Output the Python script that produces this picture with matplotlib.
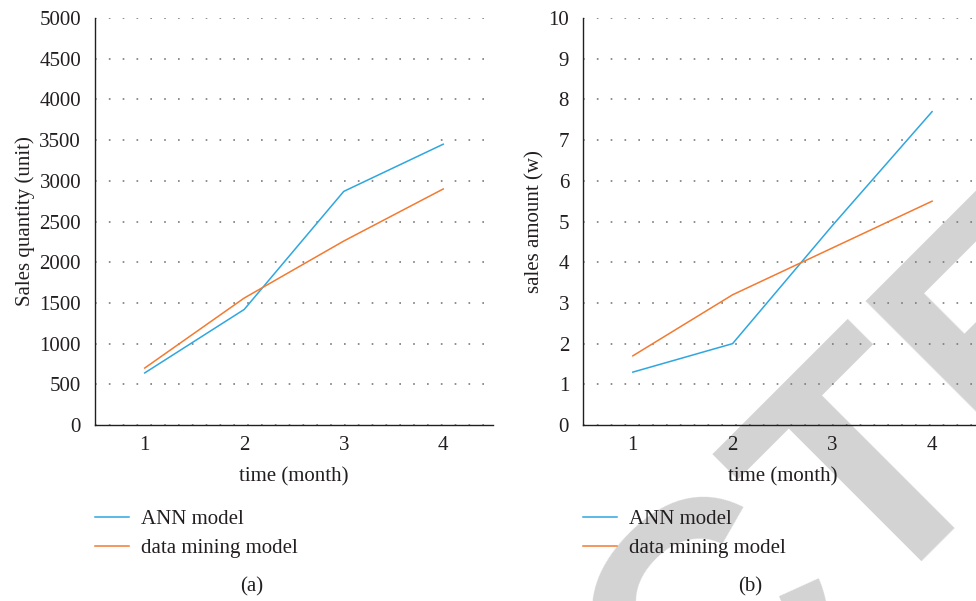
import matplotlib
matplotlib.use("Agg")
import matplotlib.pyplot as plt

# values
months = [1, 2, 3, 4]
qty_ann = [640, 1420, 2870, 3450]
qty_dm = [700, 1560, 2260, 2900]
amt_ann = [1.3, 2.0, 4.9, 7.7]
amt_dm = [1.7, 3.2, 4.35, 5.5]
qty_ticks = list(range(0, 5001, 500))
amt_ticks = list(range(0, 11))
series_names = ["ANN model", "data mining model"]

BLUE = "#2ea7e0"
ORANGE = "#f37a30"
INK = "#231f20"

plt.rcParams["font.family"] = ["Liberation Serif", "DejaVu Serif"]
plt.rcParams["font.size"] = 15

fig = plt.figure(figsize=(9.76, 6.01), dpi=100)

# grey stamp behind everything
fig.text(0.629, -0.411, "RETRACTED", rotation=45, rotation_mode="anchor",
         ha="center", va="baseline", fontsize=234, fontweight="bold",
         family="Liberation Sans", color="#d3d3d3", zorder=-5)


def panel(rect, ann, dm, yticks, ylabel, ylab_x, tag, tag_x):
    ax = fig.add_axes(rect)
    ax.set_facecolor("none")
    ax.plot(months, ann, color=BLUE, lw=1.1, label=series_names[0])
    ax.plot(months, dm, color=ORANGE, lw=1.1, label=series_names[1])
    ax.set_xlim(0.5, 4.5)
    ax.set_ylim(yticks[0], yticks[-1])
    ax.set_xticks(months)
    ax.set_yticks(yticks)
    ax.tick_params(length=0, colors=INK, labelsize=15)
    ax.tick_params(axis="y", pad=10)
    ax.tick_params(axis="x", pad=8)
    ax.yaxis.grid(True, color="#7a7a7a", lw=1.2, linestyle=(0, (1, 7.3)))
    ax.set_axisbelow(True)
    for s in ("top", "right"):
        ax.spines[s].set_visible(False)
    for s in ("left", "bottom"):
        ax.spines[s].set_color(INK)
        ax.spines[s].set_linewidth(1.0)
    ax.set_ylabel(ylabel, color=INK, fontsize=15)
    ax.yaxis.set_label_coords(ylab_x, 0.5)
    ax.yaxis.label.set_va("center")
    ax.set_xlabel("time (month)", color=INK, fontsize=15)
    ax.xaxis.set_label_coords(0.5, -0.128)
    ax.xaxis.label.set_va("center")
    x0 = rect[0]
    ax.legend(loc="center left", bbox_to_anchor=(x0, 0.112),
              bbox_transform=fig.transFigure, frameon=False,
              borderpad=0, borderaxespad=0, handlelength=1.63,
              handletextpad=0.58, labelspacing=0.45, fontsize=15,
              labelcolor=INK)
    fig.text(tag_x, 1 - 587 / 601, tag, ha="center", va="center",
             color=INK, fontsize=15)
    return ax


panel([0.0973, 0.2928, 0.4078, 0.6772], qty_ann, qty_dm, qty_ticks,
      "Sales quantity (unit)", -0.176, "(a)", 252 / 976)
panel([0.5973, 0.2928, 0.4088, 0.6772], amt_ann, amt_dm, amt_ticks,
      "sales amount (w)", -0.12, "(b)", 750 / 976)

fig.savefig("out.png", dpi=100)
